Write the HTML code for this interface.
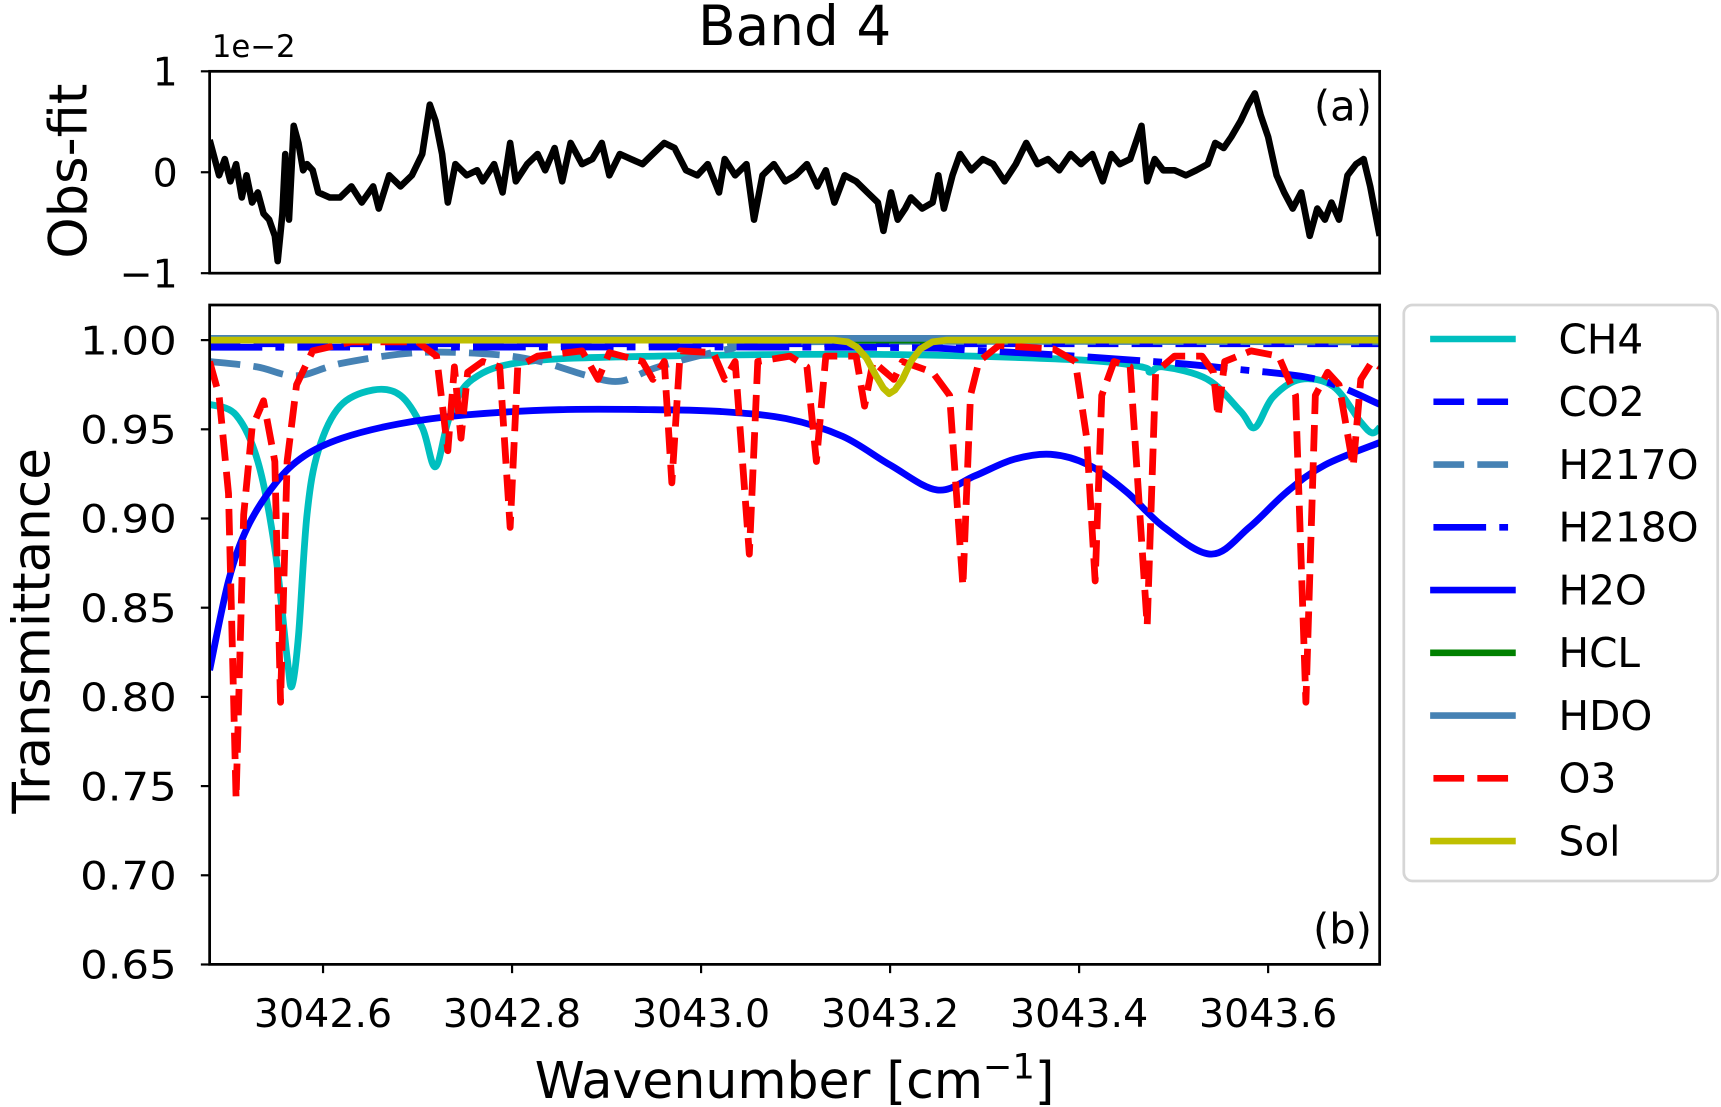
<!DOCTYPE html>
<html><head><meta charset="utf-8"><style>
html,body{margin:0;padding:0;background:#fff;}
svg{display:block;font-family:"DejaVu Sans","Liberation Sans",sans-serif;}
</style></head><body>
<svg id="fig" width="1721" height="1107" viewBox="0 0 1568 1009" preserveAspectRatio="none" xmlns="http://www.w3.org/2000/svg">
<defs>
<clipPath id="clipA"><rect x="191" y="65" width="1066" height="184"/></clipPath>
<clipPath id="clipB"><rect x="191" y="278" width="1066" height="601"/></clipPath>
</defs>
<text x="724" y="41" font-size="50" text-anchor="middle">Band 4</text>
<g id="topPanel"></g>
<g id="botPanel"></g>
<g id="legendGroup"></g>
</svg>
<script>
const xMin = 3042.48, xMax = 3043.718;
const xTicks = [3042.6, 3042.8, 3043.0, 3043.2, 3043.4, 3043.6];
const xTickLabels = ["3042.6", "3042.8", "3043.0", "3043.2", "3043.4", "3043.6"];
const yTicksB = [1.00, 0.95, 0.90, 0.85, 0.80, 0.75, 0.70, 0.65];
const yTickLabelsB = ["1.00", "0.95", "0.90", "0.85", "0.80", "0.75", "0.70", "0.65"];
const yTicksA = [1, 0, -1];
const yTickLabelsA = ["1", "0", "\u22121"];
const seriesNames = ["CH4","CO2","H217O","H218O","H2O","HCL","HDO","O3","Sol"];

const residual = [[3042.480,0.32],[3042.490,-0.03],[3042.496,0.13],[3042.502,-0.09],[3042.508,0.08],[3042.514,-0.25],[3042.519,-0.03],[3042.525,-0.30],[3042.531,-0.20],[3042.537,-0.41],[3042.543,-0.47],[3042.549,-0.63],[3042.552,-0.88],[3042.557,-0.41],[3042.560,0.18],[3042.564,-0.47],[3042.569,0.46],[3042.574,0.29],[3042.579,0.02],[3042.583,0.08],[3042.589,0.02],[3042.595,-0.20],[3042.607,-0.25],[3042.618,-0.25],[3042.630,-0.14],[3042.641,-0.30],[3042.653,-0.14],[3042.659,-0.36],[3042.670,-0.03],[3042.682,-0.14],[3042.694,-0.03],[3042.705,0.18],[3042.713,0.67],[3042.719,0.51],[3042.726,0.18],[3042.732,-0.30],[3042.740,0.08],[3042.752,-0.03],[3042.763,0.02],[3042.769,-0.09],[3042.781,0.08],[3042.790,-0.20],[3042.798,0.29],[3042.804,-0.09],[3042.816,0.08],[3042.827,0.18],[3042.835,0.02],[3042.845,0.24],[3042.853,-0.09],[3042.862,0.29],[3042.874,0.08],[3042.885,0.13],[3042.895,0.29],[3042.903,-0.03],[3042.914,0.18],[3042.926,0.13],[3042.938,0.08],[3042.949,0.18],[3042.961,0.29],[3042.972,0.24],[3042.984,0.02],[3042.996,-0.03],[3043.007,0.08],[3043.019,-0.20],[3043.025,0.13],[3043.036,-0.03],[3043.048,0.08],[3043.056,-0.47],[3043.065,-0.03],[3043.077,0.08],[3043.089,-0.09],[3043.100,-0.03],[3043.112,0.08],[3043.123,-0.14],[3043.132,0.02],[3043.141,-0.30],[3043.152,-0.03],[3043.164,-0.09],[3043.176,-0.20],[3043.187,-0.30],[3043.193,-0.58],[3043.201,-0.20],[3043.208,-0.47],[3043.216,-0.36],[3043.222,-0.25],[3043.234,-0.36],[3043.245,-0.30],[3043.251,-0.03],[3043.257,-0.36],[3043.266,-0.03],[3043.274,0.18],[3043.286,0.02],[3043.298,0.13],[3043.309,0.08],[3043.321,-0.09],[3043.333,0.08],[3043.344,0.29],[3043.356,0.08],[3043.367,0.13],[3043.379,0.02],[3043.391,0.18],[3043.402,0.08],[3043.414,0.18],[3043.425,-0.09],[3043.434,0.18],[3043.443,0.08],[3043.454,0.13],[3043.466,0.46],[3043.472,-0.09],[3043.480,0.13],[3043.489,0.02],[3043.501,0.02],[3043.513,-0.03],[3043.524,0.02],[3043.536,0.08],[3043.544,0.29],[3043.553,0.24],[3043.561,0.35],[3043.571,0.51],[3043.579,0.67],[3043.586,0.78],[3043.592,0.57],[3043.600,0.35],[3043.609,-0.03],[3043.617,-0.20],[3043.626,-0.36],[3043.635,-0.20],[3043.644,-0.63],[3043.652,-0.36],[3043.660,-0.47],[3043.667,-0.30],[3043.675,-0.47],[3043.684,-0.03],[3043.693,0.08],[3043.701,0.13],[3043.708,-0.14],[3043.718,-0.63]];

const ch4 = [[3042.480,0.964],[3042.508,0.958],[3042.531,0.932],[3042.549,0.883],[3042.562,0.822],[3042.567,0.806],[3042.574,0.834],[3042.583,0.902],[3042.595,0.938],[3042.618,0.963],[3042.653,0.972],[3042.682,0.969],[3042.705,0.951],[3042.719,0.929],[3042.734,0.957],[3042.758,0.978],[3042.816,0.988],[3042.955,0.991],[3043.187,0.992],[3043.396,0.989],[3043.466,0.985],[3043.475,0.982],[3043.489,0.985],[3043.536,0.978],[3043.571,0.960],[3043.586,0.951],[3043.605,0.968],[3043.634,0.978],[3043.669,0.974],[3043.698,0.954],[3043.710,0.948],[3043.718,0.951]];
const co2 = [[3042.480,0.998],[3043.100,0.998],[3043.718,0.998]];
const h217o = [[3042.480,0.988],[3042.530,0.985],[3042.572,0.980],[3042.620,0.987],[3042.700,0.993],[3042.780,0.992],[3042.830,0.988],[3042.880,0.980],[3042.915,0.977],[3042.955,0.985],[3043.030,0.995],[3043.100,0.999],[3043.718,0.999]];
const h218o = [[3042.480,0.996],[3043.150,0.996],[3043.300,0.994],[3043.478,0.988],[3043.560,0.984],[3043.652,0.978],[3043.718,0.964]];
const h2o = [[3042.48,0.815],[3042.50,0.865],[3042.52,0.895],[3042.55,0.920],[3042.58,0.935],[3042.62,0.945],[3042.68,0.953],[3042.75,0.958],[3042.85,0.961],[3042.95,0.961],[3043.02,0.960],[3043.09,0.956],[3043.15,0.946],[3043.20,0.930],[3043.25,0.916],[3043.29,0.924],[3043.33,0.933],[3043.37,0.936],[3043.41,0.930],[3043.45,0.915],[3043.49,0.895],[3043.54,0.880],[3043.58,0.895],[3043.62,0.915],[3043.66,0.930],[3043.72,0.943]];
const hcl = [[3042.480,1.000],[3043.718,1.000]];
const hdo = [[3042.480,1.001],[3043.718,1.001]];
const o3 = [[3042.480,0.988],[3042.490,0.969],[3042.500,0.914],[3042.508,0.743],[3042.516,0.902],[3042.525,0.951],[3042.537,0.966],[3042.549,0.932],[3042.555,0.797],[3042.562,0.932],[3042.572,0.975],[3042.589,0.994],[3042.630,0.999],[3042.700,0.999],[3042.720,0.991],[3042.732,0.938],[3042.739,0.985],[3042.746,0.945],[3042.753,0.982],[3042.769,0.988],[3042.787,0.985],[3042.798,0.895],[3042.806,0.985],[3042.827,0.991],[3042.874,0.994],[3042.891,0.978],[3042.903,0.993],[3042.938,0.988],[3042.949,0.978],[3042.961,0.988],[3042.969,0.920],[3042.978,0.994],[3043.013,0.993],[3043.025,0.978],[3043.036,0.988],[3043.051,0.880],[3043.060,0.988],[3043.094,0.991],[3043.112,0.985],[3043.122,0.932],[3043.132,0.991],[3043.164,0.991],[3043.173,0.963],[3043.182,0.988],[3043.204,0.978],[3043.213,0.988],[3043.245,0.982],[3043.263,0.969],[3043.277,0.862],[3043.285,0.969],[3043.294,0.988],[3043.315,0.997],[3043.373,0.995],[3043.396,0.988],[3043.408,0.945],[3043.417,0.865],[3043.424,0.969],[3043.437,0.988],[3043.454,0.985],[3043.472,0.840],[3043.481,0.982],[3043.501,0.991],[3043.530,0.991],[3043.542,0.982],[3043.547,0.957],[3043.554,0.988],[3043.582,0.994],[3043.611,0.991],[3043.629,0.969],[3043.640,0.797],[3043.650,0.969],[3043.663,0.982],[3043.675,0.975],[3043.690,0.929],[3043.698,0.978],[3043.710,0.988],[3043.718,0.985]];
const sol = [[3042.480,1.000],[3043.140,1.000],[3043.155,0.999],[3043.165,0.996],[3043.175,0.990],[3043.185,0.980],[3043.193,0.973],[3043.199,0.970],[3043.205,0.972],[3043.213,0.978],[3043.222,0.988],[3043.232,0.995],[3043.245,0.999],[3043.260,1.000],[3043.718,1.000]];

const NS = "http://www.w3.org/2000/svg";
const PL = 191, PR = 1257;
function sx(v){ return PL + (v - xMin) / (xMax - xMin) * (PR - PL); }
function syA(v){ return 157 - v * 92; }
function syB(v){ return 310 + (1.0 - v) / 0.05 * 81.3; }
function mk(tag, attrs, parent){ const e = document.createElementNS(NS, tag); for (const k in attrs) e.setAttribute(k, attrs[k]); parent.appendChild(e); return e; }
function pathFrom(arr, fy){ return arr.map((p,i)=>(i?"L":"M")+sx(p[0]).toFixed(1)+","+fy(p[1]).toFixed(1)).join(""); }
function smoothFrom(arr, fy){
  const P = arr.map(p=>[sx(p[0]), fy(p[1])]);
  let d = "M"+P[0][0].toFixed(1)+","+P[0][1].toFixed(1);
  for (let i=0;i<P.length-1;i++){
    const p0 = P[Math.max(0,i-1)], p1 = P[i], p2 = P[i+1], p3 = P[Math.min(P.length-1,i+2)];
    const c1 = [p1[0]+(p2[0]-p0[0])/6, p1[1]+(p2[1]-p0[1])/6];
    const c2 = [p2[0]-(p3[0]-p1[0])/6, p2[1]-(p3[1]-p1[1])/6];
    d += "C"+c1[0].toFixed(1)+","+c1[1].toFixed(1)+" "+c2[0].toFixed(1)+","+c2[1].toFixed(1)+" "+p2[0].toFixed(1)+","+p2[1].toFixed(1);
  }
  return d;
}

const gTop = document.getElementById("topPanel");
const gBot = document.getElementById("botPanel");
const gLeg = document.getElementById("legendGroup");

let rl = mk("path", {d: pathFrom(residual, syA), fill:"none", stroke:"#000", "stroke-width":6, "stroke-linejoin":"round", "clip-path":"url(#clipA)"}, gTop);


let fa = mk("rect", {x:191, y:65, width:1066, height:184, fill:"none", stroke:"#000", "stroke-width":2.5}, gTop);


yTicksA.forEach((t,i)=>{
  const y = syA(t);
  let tk = mk("line", {x1:183, x2:191, y1:y, y2:y, stroke:"#000", "stroke-width":2}, gTop);
  
  
  let tl = mk("text", {x:162, y:y+13, "font-size":36, "text-anchor":"end"}, gTop);
  tl.textContent = yTickLabelsA[i];
  
  
});
let off = mk("text", {x:193, y:52, "font-size":28}, gTop);
off.textContent = "1e\u22122";


let pa = mk("text", {x:1250, y:110, "font-size":38, "text-anchor":"end"}, gTop);
pa.textContent = "(a)";


let yla = mk("text", {x:0, y:0, "font-size":48, "text-anchor":"middle", transform:"translate(79,156) rotate(-90)"}, gTop);
yla.textContent = "Obs-fit";



const styles = [
  {data:ch4, color:"#00bfbf", dash:null, smooth:true},
  {data:co2, color:"#0000ff", dash:"28 12", smooth:false},
  {data:h217o, color:"#4682b4", dash:"28 12", smooth:true},
  {data:h218o, color:"#0000ff", dash:"48 12 8 12", smooth:true},
  {data:h2o, color:"#0000ff", dash:null, smooth:true},
  {data:hcl, color:"#008000", dash:null, smooth:false},
  {data:hdo, color:"#4682b4", dash:null, smooth:false},
  {data:o3, color:"#ff0000", dash:"24 10", smooth:false},
  {data:sol, color:"#bfbf00", dash:null, smooth:false}
];
styles.forEach((s,i)=>{
  const d = s.smooth ? smoothFrom(s.data, syB) : pathFrom(s.data, syB);
  const a = {d: d, fill:"none", stroke:s.color, "stroke-width":6.2, "stroke-linejoin":"round", "clip-path":"url(#clipB)"};
  if (s.dash) a["stroke-dasharray"] = s.dash;
  let p = mk("path", a, gBot);
  
  
});
let fb = mk("rect", {x:191, y:278, width:1066, height:601, fill:"none", stroke:"#000", "stroke-width":2.5}, gBot);


yTicksB.forEach((t,i)=>{
  const y = syB(t);
  let tk = mk("line", {x1:183, x2:191, y1:y, y2:y, stroke:"#000", "stroke-width":2}, gBot);
  
  
  let tl = mk("text", {x:161, y:y+13, "font-size":36, "text-anchor":"end", textLength:"88", lengthAdjust:"spacingAndGlyphs"}, gBot);
  tl.textContent = yTickLabelsB[i];
  
  
});
xTicks.forEach((t,i)=>{
  const x = sx(t);
  let tk = mk("line", {x1:x, x2:x, y1:879, y2:887, stroke:"#000", "stroke-width":2}, gBot);
  
  
  let tl = mk("text", {x:x, y:936, "font-size":36, "text-anchor":"middle"}, gBot);
  tl.textContent = xTickLabels[i];
  
  
});
let pb = mk("text", {x:1250, y:860, "font-size":38, "text-anchor":"end"}, gBot);
pb.textContent = "(b)";


let ylb = mk("text", {x:0, y:0, "font-size":47, "text-anchor":"middle", transform:"translate(45,575) rotate(-90)"}, gBot);
ylb.textContent = "Transmittance";


let xl = mk("text", {x:724, y:1001, "font-size":46, "text-anchor":"middle"}, gBot);


let t1 = mk("tspan", {}, xl); t1.textContent = "Wavenumber [cm";
let t2 = mk("tspan", {dy:"-18", "font-size":"32"}, xl); t2.textContent = "\u22121";
let t3 = mk("tspan", {dy:"18"}, xl); t3.textContent = "]";

let lb = mk("rect", {x:1279, y:278, width:286, height:525, rx:8, fill:"#fff", stroke:"#d6d6d6", "stroke-width":2.5}, gLeg);


styles.forEach((s,i)=>{
  const y = 309 + i * 57.2;
  const a = {x1:1303, x2:1381, y1:y, y2:y, stroke:s.color, "stroke-width":6};
  if (s.dash) { a["stroke-dasharray"] = s.dash; a.x1 = 1306; a.x2 = 1378; }
  if (s.dash === "24 10") a["stroke-dasharray"] = "28 12";
  let ln = mk("line", a, gLeg);
  
  
  let tx = mk("text", {x:1420, y:y+13, "font-size":37}, gLeg);
  tx.textContent = seriesNames[i];
  
  
});
</script>
</body></html>
